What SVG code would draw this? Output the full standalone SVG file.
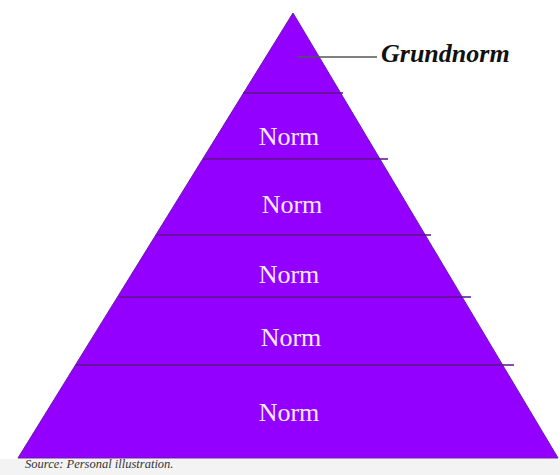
<svg xmlns="http://www.w3.org/2000/svg" width="560" height="475" viewBox="0 0 560 475">
<style>
.tier{stroke:#5a1488;stroke-width:1.5}
.norm{font-family:"Liberation Serif",serif;font-size:26px;fill:#f6e8ff;text-anchor:middle}
</style>
<rect x="0" y="0" width="560" height="475" fill="#ffffff"/>
<rect x="0" y="459" width="560" height="16" fill="#f3f3f3"/>
<g id="pyramid">
<polygon points="293,13 18,458 558,458" fill="#9400ff" stroke="#6a1aa0" stroke-width="1"/>
</g>
<g id="tiers">
<line class="tier" x1="243" y1="93" x2="343" y2="93"/>
<line class="tier" x1="203" y1="159" x2="388" y2="159"/>
<line class="tier" x1="157" y1="235" x2="431" y2="235"/>
<line class="tier" x1="119" y1="297" x2="471" y2="297"/>
<line class="tier" x1="76" y1="365" x2="514" y2="365"/>
</g>
<g id="labels">
<text class="norm" x="289" y="145">Norm</text>
<text class="norm" x="292" y="213">Norm</text>
<text class="norm" x="289" y="283">Norm</text>
<text class="norm" x="291" y="346">Norm</text>
<text class="norm" x="289" y="421">Norm</text>
</g>
<g id="connectors">
<line x1="298" y1="57" x2="377" y2="57" stroke="#555555" stroke-width="1.5"/>
</g>
<g id="grundnorm">
<text x="381" y="62" font-family="Liberation Serif,serif" font-size="26" font-weight="bold" font-style="italic" fill="#111111">Grundnorm</text>
</g>
<text x="25" y="468" font-family="Liberation Serif,serif" font-size="12.5" font-style="italic" fill="#333333">Source: Personal illustration.</text>
</svg>
